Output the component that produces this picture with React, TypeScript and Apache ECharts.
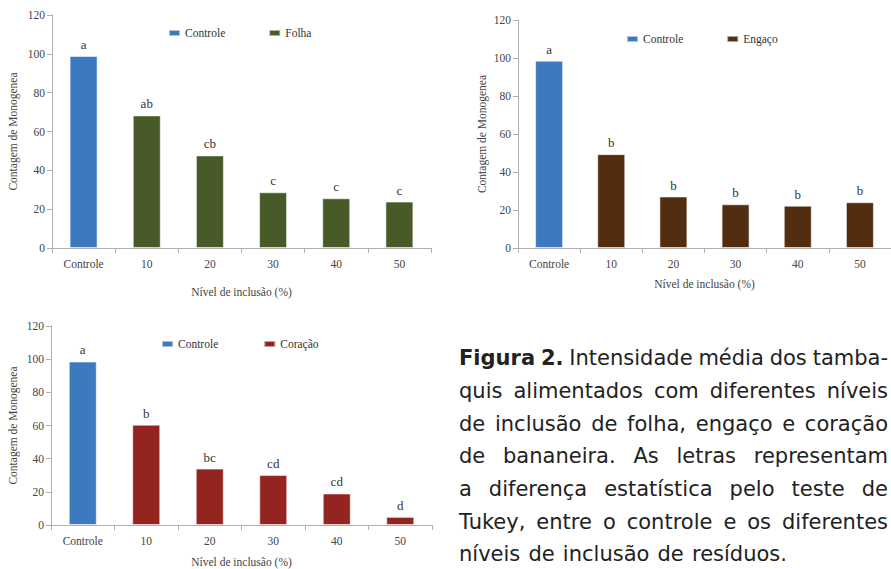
import React, { useEffect, useRef } from "react";
import * as echarts from "echarts";

const categories = ["Controle", "10", "20", "30", "40", "50"];
const yMin = 0;
const yMax = 120;
const yInterval = 20;

const controleFolha = 98.9;
const folhaValues = [68.3, 47.7, 28.7, 25.6, 23.9];
const folhaLetters = ["a", "ab", "cb", "c", "c", "c"];

const controleEngaco = 98.6;
const engacoValues = [49.4, 27.1, 23.0, 22.3, 24.1];
const engacoLetters = ["a", "b", "b", "b", "b", "b"];

const controleCoracao = 98.6;
const coracaoValues = [60.5, 34.0, 30.2, 19.0, 4.9];
const coracaoLetters = ["a", "b", "bc", "cd", "cd", "d"];

const yAxisName = "Contagem de Monogenea";
const xAxisName = "Nível de inclusão (%)";

const captionLines = [
  "Figura 2. Intensidade média dos tamba-",
  "quis alimentados com diferentes níveis",
  "de inclusão de folha, engaço e coração",
  "de bananeira. As letras representam",
  "a diferença estatística pelo teste de",
  "Tukey, entre o controle e os diferentes",
  "níveis de inclusão de resíduos.",
];

const BLUE = "#3d79bf";
const SERIF = "'Liberation Serif', 'Times New Roman', serif";
const SANS = "'DejaVu Sans', sans-serif";
const AXIS_COLOR = "#b0b0b0";
const LABEL_COLOR = "#444";

type Panel = {
  treat: string;
  color: string;
  ctrl: number;
  values: number[];
  letters: string[];
  grid: { left: number; top: number; width: number; height: number };
  legend: { left: number; top: number; gap: number };
  xGap: number;
  yGap: number;
};

const panels: Panel[] = [
  {
    treat: "Folha",
    color: "#475a27",
    ctrl: controleFolha,
    values: folhaValues,
    letters: folhaLetters,
    grid: { left: 52, top: 15, width: 379, height: 233 },
    legend: { left: 168, top: 27, gap: 43 },
    xGap: 38,
    yGap: 33,
  },
  {
    treat: "Engaço",
    color: "#532d10",
    ctrl: controleEngaco,
    values: engacoValues,
    letters: engacoLetters,
    grid: { left: 518, top: 20, width: 378, height: 228 },
    legend: { left: 626, top: 33, gap: 43 },
    xGap: 30,
    yGap: 30,
  },
  {
    treat: "Coração",
    color: "#932420",
    ctrl: controleCoracao,
    values: coracaoValues,
    letters: coracaoLetters,
    grid: { left: 51, top: 326, width: 381, height: 202 },
    legend: { left: 161, top: 338, gap: 45 },
    xGap: 31,
    yGap: 32,
  },
];

function buildCaption(): any[] {
  const canvas = document.createElement("canvas");
  const ctx = canvas.getContext("2d")!;
  const size = 21;
  const normalFont = `${size}px ${SANS}`;
  const boldFont = `bold ${size}px ${SANS}`;
  const L = 459;
  const R = 888;
  const baseline0 = 365.5;
  const step = 32.7;
  const els: any[] = [];
  captionLines.forEach((line, li) => {
    const y = baseline0 + li * step - 0.346 * size;
    const words = line.split(" ");
    const fonts = words.map((w, wi) => (li === 0 && wi < 2 ? boldFont : normalFont));
    const widths = words.map((w, wi) => {
      ctx.font = fonts[wi];
      return ctx.measureText(w).width;
    });
    const justify = li < captionLines.length - 1;
    let gap: number;
    if (justify) {
      const total = widths.reduce((a, b) => a + b, 0);
      gap = (R - L - total) / (words.length - 1);
    } else {
      ctx.font = normalFont;
      gap = ctx.measureText(" ").width + 1.5;
    }
    let x = L;
    words.forEach((w, wi) => {
      els.push({
        type: "text",
        x,
        y,
        silent: true,
        style: {
          text: w,
          font: fonts[wi],
          fill: "#222",
          align: "left",
          verticalAlign: "middle",
        },
      });
      x += widths[wi] + gap;
    });
  });
  return els;
}

export default function App() {
  const ref = useRef<HTMLDivElement>(null);
  useEffect(() => {
    if (!ref.current) return;
    const chart = echarts.init(ref.current, undefined, { renderer: "svg" });
    const grids = panels.map((p) => ({ ...p.grid, containLabel: false }));
    const xAxes = panels.map((p, i) => ({
      type: "category",
      gridIndex: i,
      data: categories,
      name: xAxisName,
      nameLocation: "middle",
      nameGap: p.xGap,
      nameTextStyle: { fontFamily: SERIF, fontSize: 11.5, color: LABEL_COLOR },
      axisLine: { lineStyle: { color: AXIS_COLOR, width: 1 } },
      axisTick: { show: true, interval: 0, length: 5, lineStyle: { color: AXIS_COLOR } },
      axisLabel: { interval: 0, margin: 10, fontFamily: SERIF, fontSize: 11.5, color: LABEL_COLOR },
      splitLine: { show: false },
    }));
    const yAxes = panels.map((p, i) => ({
      type: "value",
      gridIndex: i,
      min: yMin,
      max: yMax,
      interval: yInterval,
      name: yAxisName,
      nameLocation: "middle",
      nameRotate: 90,
      nameGap: p.yGap,
      nameTextStyle: { fontFamily: SERIF, fontSize: 11.5, color: LABEL_COLOR },
      axisLine: { show: true, lineStyle: { color: AXIS_COLOR, width: 1 } },
      axisTick: { show: true, length: 5, lineStyle: { color: AXIS_COLOR } },
      axisLabel: { margin: 7, fontFamily: SERIF, fontSize: 11.5, color: LABEL_COLOR },
      splitLine: { show: false },
    }));
    const series: any[] = [];
    panels.forEach((p, i) => {
      const labelCfg = {
        show: true,
        position: "top",
        distance: 5,
        fontFamily: SERIF,
        fontSize: 13,
        color: "#333",
        formatter: (prm: any) => p.letters[prm.dataIndex],
      };
      series.push({
        type: "bar",
        name: "Controle",
        xAxisIndex: i,
        yAxisIndex: i,
        barWidth: 28,
        barGap: "-100%",
        data: categories.map((c, k) => (k === 0 ? p.ctrl : "-")),
        itemStyle: { color: BLUE, borderColor: "rgba(255,255,255,0.55)", borderWidth: 1 },
        label: labelCfg,
      });
      series.push({
        type: "bar",
        name: p.treat,
        xAxisIndex: i,
        yAxisIndex: i,
        barWidth: 28,
        barGap: "-100%",
        data: categories.map((c, k) => (k === 0 ? "-" : p.values[k - 1])),
        itemStyle: { color: p.color, borderColor: "rgba(255,255,255,0.55)", borderWidth: 1 },
        label: labelCfg,
      });
    });
    const legends = panels.map((p) => ({
      data: ["Controle", p.treat],
      left: p.legend.left,
      top: p.legend.top,
      padding: 0,
      itemGap: p.legend.gap,
      itemWidth: 11,
      itemHeight: 6,
      icon: "rect",
      selectedMode: false,
      textStyle: { fontFamily: SERIF, fontSize: 11.5, color: "#333" },
    }));
    chart.setOption({
      animation: false,
      backgroundColor: "#ffffff",
      grid: grids,
      xAxis: xAxes,
      yAxis: yAxes,
      legend: legends,
      series,
      graphic: buildCaption(),
    });
    return () => chart.dispose();
  }, []);
  return (
    <div
      ref={ref}
      style={{ position: "absolute", left: 0, top: 0, width: 891, height: 569, overflow: "hidden" }}
    />
  );
}
